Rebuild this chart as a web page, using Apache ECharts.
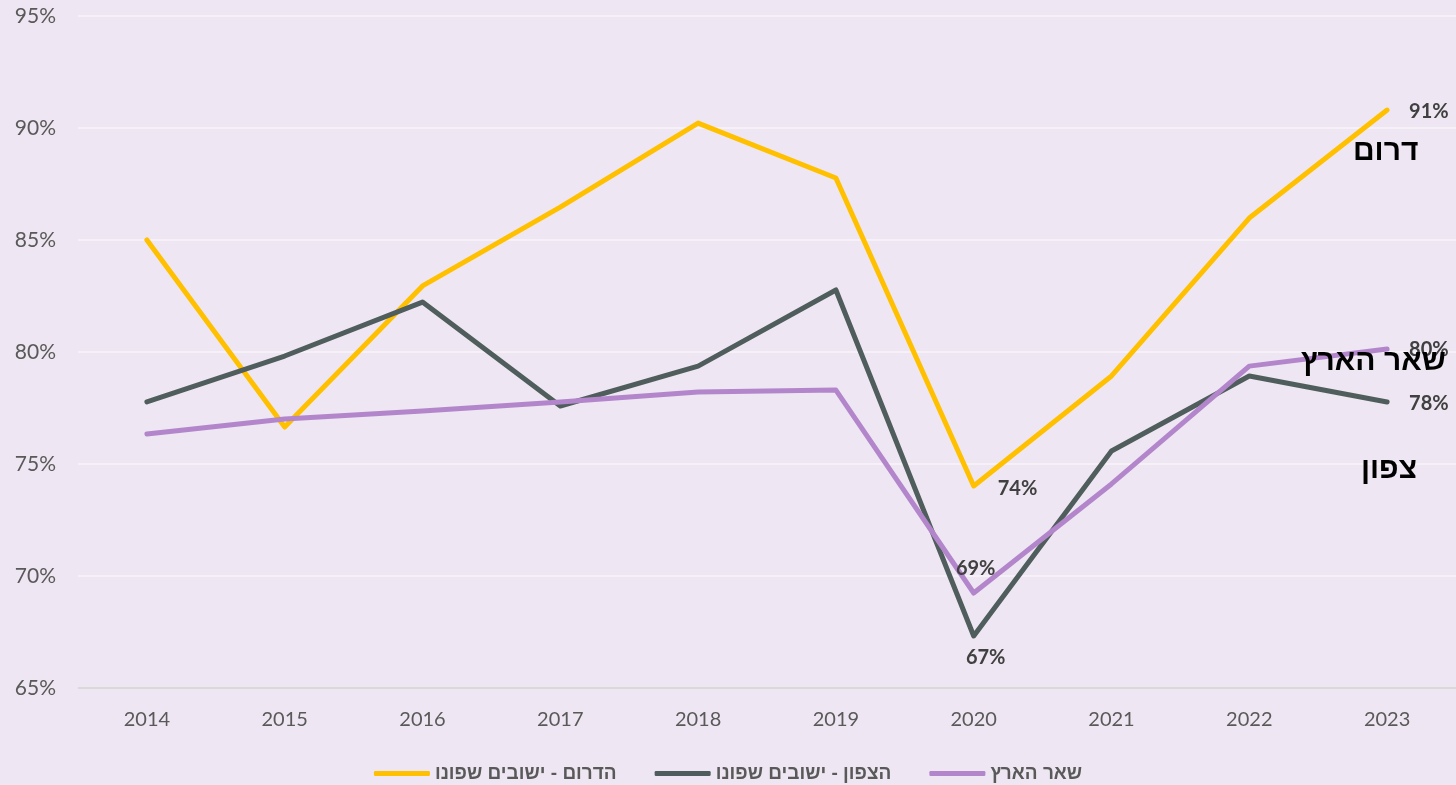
<!DOCTYPE html>
<html>
<head>
<meta charset="utf-8">
<script src="https://cdn.jsdelivr.net/npm/echarts@6/dist/echarts.min.js"></script>
<style>
  html, body { margin: 0; padding: 0; background: #EEE6F2; }
  #chart { width: 1456px; height: 785px; }
</style>
</head>
<body>
<div id="chart"></div>
<script>
// שנים
const years = ['2014', '2015', '2016', '2017', '2018', '2019', '2020', '2021', '2022', '2023']

// אחוזים לפי אזור
const south = [85.0, 76.65, 82.95, 86.47, 90.22, 87.77, 74.02, 78.93, 85.98, 90.8]
const north = [77.77, 79.82, 82.23, 77.59, 79.37, 82.77, 67.32, 75.58, 78.93, 77.77]
const rest = [76.34, 77.01, 77.37, 77.77, 78.21, 78.3, 69.24, 74.11, 79.37, 80.13]

const seriesNames = ['הדרום - ישובים שפונו', 'הצפון - ישובים שפונו', 'שאר הארץ']
const colors = ['#FFC000', '#505D5D', '#B386CC']

const chart = echarts.init(document.getElementById('chart'))

const pct = (p) => Math.round(p.value) + '%'
const lbl = (position, distance, offset) => ({
  show: true,
  position,
  distance,
  offset: offset || [0, 0],
  formatter: pct,
  fontFamily: 'Lato, sans-serif',
  fontWeight: 'bold',
  fontSize: 20,
  color: '#404040'
})

// תוויות רק בנקודות מסוימות
const withLabels = (values, labels) =>
  values.map((v, i) => (labels[i] ? { value: v, label: labels[i] } : v))

const southData = withLabels(south, { 6: lbl('right', 24, [0, 3]), 9: lbl('right', 22, [0, 1]) })
const northData = withLabels(north, { 6: lbl('bottom', 12, [12, 0]), 9: lbl('right', 22, [0, 2]) })
const restData = withLabels(rest, { 6: lbl('top', 14, [2, 0]), 9: lbl('right', 22, [0, 0]) })

const mk = (name, data, color) => ({
  name,
  type: 'line',
  data,
  symbol: 'circle',
  symbolSize: 0,
  showAllSymbol: true,
  smooth: false,
  lineStyle: { width: 5, color, cap: 'round', join: 'round' },
  itemStyle: { color },
  emphasis: { disabled: true }
})

const tagStyle = {
  fontFamily: 'Liberation Sans, DejaVu Sans, sans-serif',
  fontWeight: 'bold',
  fontSize: 30,
  fill: '#000'
}

chart.setOption({
  backgroundColor: '#EEE6F2',
  animation: false,
  color: colors,
  grid: { left: 78, right: 0, top: 16, bottom: 97 },
  legend: {
    top: 759,
    left: 'center',
    itemWidth: 56,
    itemHeight: 5,
    itemGap: 38,
    icon: 'roundRect',
    textStyle: {
      fontFamily: 'Liberation Sans, DejaVu Sans, sans-serif',
      fontWeight: 'bold',
      fontSize: 19,
      color: '#595959'
    },
    data: seriesNames
  },
  xAxis: {
    type: 'category',
    data: years,
    boundaryGap: true,
    axisLine: { show: false },
    axisTick: { show: false },
    axisLabel: {
      margin: 22,
      fontFamily: 'Lato, sans-serif',
      fontSize: 20,
      color: '#595959'
    }
  },
  yAxis: {
    type: 'value',
    min: 65,
    max: 95,
    interval: 5,
    axisLine: { show: false },
    axisTick: { show: false },
    axisLabel: {
      formatter: '{value}%',
      margin: 22,
      fontFamily: 'Lato, sans-serif',
      fontSize: 21,
      color: '#595959'
    },
    splitLine: {
      lineStyle: { color: ['#D9D9D9', '#F5F1F7', '#F5F1F7', '#F5F1F7', '#F5F1F7', '#F5F1F7', '#F5F1F7'], width: 2 }
    }
  },
  graphic: [
    { type: 'text', z: 100, left: 1353, top: 137, style: Object.assign({ text: 'דרום' }, tagStyle) },
    { type: 'text', z: 100, left: 1301, top: 347, style: Object.assign({ text: 'שאר הארץ' }, tagStyle) },
    { type: 'text', z: 100, left: 1361, top: 455, style: Object.assign({ text: 'צפון' }, tagStyle) }
  ],
  series: [
    mk(seriesNames[0], southData, colors[0]),
    mk(seriesNames[1], northData, colors[1]),
    mk(seriesNames[2], restData, colors[2])
  ]
})
</script>
</body>
</html>
